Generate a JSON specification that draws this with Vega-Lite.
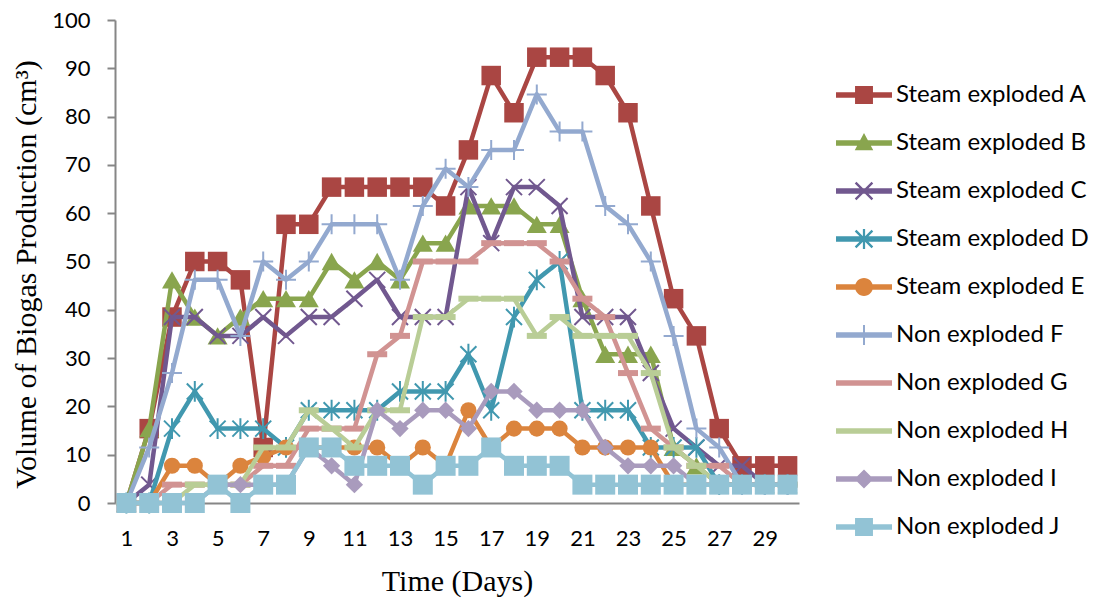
{
  "$schema": "https://vega.github.io/schema/vega-lite/v6.json",
  "width": 684,
  "height": 483,
  "autosize": {"type": "none"},
  "padding": {"left": 115, "top": 20, "right": 299, "bottom": 96},
  "background": "white",
  "config": {"view": {"stroke": null}, "point": {"opacity": 1}},
  "data": {"values": [
{"day":1,"series":"Steam exploded A","value":0},{"day":2,"series":"Steam exploded A","value":15.4},{"day":3,"series":"Steam exploded A","value":38.5},{"day":4,"series":"Steam exploded A","value":50},{"day":5,"series":"Steam exploded A","value":50},{"day":6,"series":"Steam exploded A","value":46.2},{"day":7,"series":"Steam exploded A","value":11.5},{"day":8,"series":"Steam exploded A","value":57.7},{"day":9,"series":"Steam exploded A","value":57.7},{"day":10,"series":"Steam exploded A","value":65.4},{"day":11,"series":"Steam exploded A","value":65.4},{"day":12,"series":"Steam exploded A","value":65.4},{"day":13,"series":"Steam exploded A","value":65.4},{"day":14,"series":"Steam exploded A","value":65.4},{"day":15,"series":"Steam exploded A","value":61.5},{"day":16,"series":"Steam exploded A","value":73.1},{"day":17,"series":"Steam exploded A","value":88.5},{"day":18,"series":"Steam exploded A","value":80.8},{"day":19,"series":"Steam exploded A","value":92.3},{"day":20,"series":"Steam exploded A","value":92.3},{"day":21,"series":"Steam exploded A","value":92.3},{"day":22,"series":"Steam exploded A","value":88.5},{"day":23,"series":"Steam exploded A","value":80.8},{"day":24,"series":"Steam exploded A","value":61.5},{"day":25,"series":"Steam exploded A","value":42.3},{"day":26,"series":"Steam exploded A","value":34.6},{"day":27,"series":"Steam exploded A","value":15.4},{"day":28,"series":"Steam exploded A","value":7.7},{"day":29,"series":"Steam exploded A","value":7.7},{"day":30,"series":"Steam exploded A","value":7.7},
{"day":1,"series":"Steam exploded B","value":0},{"day":2,"series":"Steam exploded B","value":15.4},{"day":3,"series":"Steam exploded B","value":46.2},{"day":4,"series":"Steam exploded B","value":38.5},{"day":5,"series":"Steam exploded B","value":34.6},{"day":6,"series":"Steam exploded B","value":38.5},{"day":7,"series":"Steam exploded B","value":42.3},{"day":8,"series":"Steam exploded B","value":42.3},{"day":9,"series":"Steam exploded B","value":42.3},{"day":10,"series":"Steam exploded B","value":50},{"day":11,"series":"Steam exploded B","value":46.2},{"day":12,"series":"Steam exploded B","value":50},{"day":13,"series":"Steam exploded B","value":46.2},{"day":14,"series":"Steam exploded B","value":53.8},{"day":15,"series":"Steam exploded B","value":53.8},{"day":16,"series":"Steam exploded B","value":61.5},{"day":17,"series":"Steam exploded B","value":61.5},{"day":18,"series":"Steam exploded B","value":61.5},{"day":19,"series":"Steam exploded B","value":57.7},{"day":20,"series":"Steam exploded B","value":57.7},{"day":21,"series":"Steam exploded B","value":42.3},{"day":22,"series":"Steam exploded B","value":30.8},{"day":23,"series":"Steam exploded B","value":30.8},{"day":24,"series":"Steam exploded B","value":30.8},{"day":25,"series":"Steam exploded B","value":11.5},{"day":26,"series":"Steam exploded B","value":7.7},{"day":27,"series":"Steam exploded B","value":3.8},{"day":28,"series":"Steam exploded B","value":3.8},{"day":29,"series":"Steam exploded B","value":3.8},{"day":30,"series":"Steam exploded B","value":3.8},
{"day":1,"series":"Steam exploded C","value":0},{"day":2,"series":"Steam exploded C","value":3.8},{"day":3,"series":"Steam exploded C","value":38.5},{"day":4,"series":"Steam exploded C","value":38.5},{"day":5,"series":"Steam exploded C","value":34.6},{"day":6,"series":"Steam exploded C","value":34.6},{"day":7,"series":"Steam exploded C","value":38.5},{"day":8,"series":"Steam exploded C","value":34.6},{"day":9,"series":"Steam exploded C","value":38.5},{"day":10,"series":"Steam exploded C","value":38.5},{"day":11,"series":"Steam exploded C","value":42.3},{"day":12,"series":"Steam exploded C","value":46.2},{"day":13,"series":"Steam exploded C","value":38.5},{"day":14,"series":"Steam exploded C","value":38.5},{"day":15,"series":"Steam exploded C","value":38.5},{"day":16,"series":"Steam exploded C","value":65.4},{"day":17,"series":"Steam exploded C","value":53.8},{"day":18,"series":"Steam exploded C","value":65.4},{"day":19,"series":"Steam exploded C","value":65.4},{"day":20,"series":"Steam exploded C","value":61.5},{"day":21,"series":"Steam exploded C","value":38.5},{"day":22,"series":"Steam exploded C","value":38.5},{"day":23,"series":"Steam exploded C","value":38.5},{"day":24,"series":"Steam exploded C","value":26.9},{"day":25,"series":"Steam exploded C","value":15.4},{"day":26,"series":"Steam exploded C","value":11.5},{"day":27,"series":"Steam exploded C","value":7.7},{"day":28,"series":"Steam exploded C","value":7.7},{"day":29,"series":"Steam exploded C","value":3.8},{"day":30,"series":"Steam exploded C","value":3.8},
{"day":1,"series":"Steam exploded D","value":0},{"day":2,"series":"Steam exploded D","value":0},{"day":3,"series":"Steam exploded D","value":15.4},{"day":4,"series":"Steam exploded D","value":23.1},{"day":5,"series":"Steam exploded D","value":15.4},{"day":6,"series":"Steam exploded D","value":15.4},{"day":7,"series":"Steam exploded D","value":15.4},{"day":8,"series":"Steam exploded D","value":11.5},{"day":9,"series":"Steam exploded D","value":19.2},{"day":10,"series":"Steam exploded D","value":19.2},{"day":11,"series":"Steam exploded D","value":19.2},{"day":12,"series":"Steam exploded D","value":19.2},{"day":13,"series":"Steam exploded D","value":23.1},{"day":14,"series":"Steam exploded D","value":23.1},{"day":15,"series":"Steam exploded D","value":23.1},{"day":16,"series":"Steam exploded D","value":30.8},{"day":17,"series":"Steam exploded D","value":19.2},{"day":18,"series":"Steam exploded D","value":38.5},{"day":19,"series":"Steam exploded D","value":46.2},{"day":20,"series":"Steam exploded D","value":50},{"day":21,"series":"Steam exploded D","value":19.2},{"day":22,"series":"Steam exploded D","value":19.2},{"day":23,"series":"Steam exploded D","value":19.2},{"day":24,"series":"Steam exploded D","value":11.5},{"day":25,"series":"Steam exploded D","value":11.5},{"day":26,"series":"Steam exploded D","value":11.5},{"day":27,"series":"Steam exploded D","value":3.8},{"day":28,"series":"Steam exploded D","value":3.8},{"day":29,"series":"Steam exploded D","value":3.8},{"day":30,"series":"Steam exploded D","value":3.8},
{"day":1,"series":"Steam exploded E","value":0},{"day":2,"series":"Steam exploded E","value":0},{"day":3,"series":"Steam exploded E","value":7.7},{"day":4,"series":"Steam exploded E","value":7.7},{"day":5,"series":"Steam exploded E","value":3.8},{"day":6,"series":"Steam exploded E","value":7.7},{"day":7,"series":"Steam exploded E","value":9.6},{"day":8,"series":"Steam exploded E","value":11.5},{"day":9,"series":"Steam exploded E","value":11.5},{"day":10,"series":"Steam exploded E","value":11.5},{"day":11,"series":"Steam exploded E","value":11.5},{"day":12,"series":"Steam exploded E","value":11.5},{"day":13,"series":"Steam exploded E","value":7.7},{"day":14,"series":"Steam exploded E","value":11.5},{"day":15,"series":"Steam exploded E","value":7.7},{"day":16,"series":"Steam exploded E","value":19.2},{"day":17,"series":"Steam exploded E","value":11.5},{"day":18,"series":"Steam exploded E","value":15.4},{"day":19,"series":"Steam exploded E","value":15.4},{"day":20,"series":"Steam exploded E","value":15.4},{"day":21,"series":"Steam exploded E","value":11.5},{"day":22,"series":"Steam exploded E","value":11.5},{"day":23,"series":"Steam exploded E","value":11.5},{"day":24,"series":"Steam exploded E","value":11.5},{"day":25,"series":"Steam exploded E","value":3.8},{"day":26,"series":"Steam exploded E","value":3.8},{"day":27,"series":"Steam exploded E","value":3.8},{"day":28,"series":"Steam exploded E","value":3.8},{"day":29,"series":"Steam exploded E","value":3.8},{"day":30,"series":"Steam exploded E","value":3.8},
{"day":1,"series":"Non exploded F","value":0},{"day":2,"series":"Non exploded F","value":11.5},{"day":3,"series":"Non exploded F","value":26.9},{"day":4,"series":"Non exploded F","value":46.2},{"day":5,"series":"Non exploded F","value":46.2},{"day":6,"series":"Non exploded F","value":34.6},{"day":7,"series":"Non exploded F","value":50},{"day":8,"series":"Non exploded F","value":46.2},{"day":9,"series":"Non exploded F","value":50},{"day":10,"series":"Non exploded F","value":57.7},{"day":11,"series":"Non exploded F","value":57.7},{"day":12,"series":"Non exploded F","value":57.7},{"day":13,"series":"Non exploded F","value":46.2},{"day":14,"series":"Non exploded F","value":61.5},{"day":15,"series":"Non exploded F","value":69.2},{"day":16,"series":"Non exploded F","value":65.4},{"day":17,"series":"Non exploded F","value":73.1},{"day":18,"series":"Non exploded F","value":73.1},{"day":19,"series":"Non exploded F","value":84.6},{"day":20,"series":"Non exploded F","value":76.9},{"day":21,"series":"Non exploded F","value":76.9},{"day":22,"series":"Non exploded F","value":61.5},{"day":23,"series":"Non exploded F","value":57.7},{"day":24,"series":"Non exploded F","value":50},{"day":25,"series":"Non exploded F","value":34.6},{"day":26,"series":"Non exploded F","value":15.4},{"day":27,"series":"Non exploded F","value":11.5},{"day":28,"series":"Non exploded F","value":3.8},{"day":29,"series":"Non exploded F","value":3.8},{"day":30,"series":"Non exploded F","value":3.8},
{"day":1,"series":"Non exploded G","value":0},{"day":2,"series":"Non exploded G","value":0},{"day":3,"series":"Non exploded G","value":3.8},{"day":4,"series":"Non exploded G","value":3.8},{"day":5,"series":"Non exploded G","value":3.8},{"day":6,"series":"Non exploded G","value":3.8},{"day":7,"series":"Non exploded G","value":7.7},{"day":8,"series":"Non exploded G","value":7.7},{"day":9,"series":"Non exploded G","value":15.4},{"day":10,"series":"Non exploded G","value":15.4},{"day":11,"series":"Non exploded G","value":15.4},{"day":12,"series":"Non exploded G","value":30.8},{"day":13,"series":"Non exploded G","value":34.6},{"day":14,"series":"Non exploded G","value":50},{"day":15,"series":"Non exploded G","value":50},{"day":16,"series":"Non exploded G","value":50},{"day":17,"series":"Non exploded G","value":53.8},{"day":18,"series":"Non exploded G","value":53.8},{"day":19,"series":"Non exploded G","value":53.8},{"day":20,"series":"Non exploded G","value":50},{"day":21,"series":"Non exploded G","value":42.3},{"day":22,"series":"Non exploded G","value":38.5},{"day":23,"series":"Non exploded G","value":26.9},{"day":24,"series":"Non exploded G","value":15.4},{"day":25,"series":"Non exploded G","value":11.5},{"day":26,"series":"Non exploded G","value":7.7},{"day":27,"series":"Non exploded G","value":7.7},{"day":28,"series":"Non exploded G","value":3.8},{"day":29,"series":"Non exploded G","value":3.8},{"day":30,"series":"Non exploded G","value":3.8},
{"day":1,"series":"Non exploded H","value":0},{"day":2,"series":"Non exploded H","value":0},{"day":3,"series":"Non exploded H","value":0},{"day":4,"series":"Non exploded H","value":3.8},{"day":5,"series":"Non exploded H","value":3.8},{"day":6,"series":"Non exploded H","value":3.8},{"day":7,"series":"Non exploded H","value":11.5},{"day":8,"series":"Non exploded H","value":11.5},{"day":9,"series":"Non exploded H","value":19.2},{"day":10,"series":"Non exploded H","value":15.4},{"day":11,"series":"Non exploded H","value":11.5},{"day":12,"series":"Non exploded H","value":19.2},{"day":13,"series":"Non exploded H","value":19.2},{"day":14,"series":"Non exploded H","value":38.5},{"day":15,"series":"Non exploded H","value":38.5},{"day":16,"series":"Non exploded H","value":42.3},{"day":17,"series":"Non exploded H","value":42.3},{"day":18,"series":"Non exploded H","value":42.3},{"day":19,"series":"Non exploded H","value":34.6},{"day":20,"series":"Non exploded H","value":38.5},{"day":21,"series":"Non exploded H","value":34.6},{"day":22,"series":"Non exploded H","value":34.6},{"day":23,"series":"Non exploded H","value":34.6},{"day":24,"series":"Non exploded H","value":26.9},{"day":25,"series":"Non exploded H","value":11.5},{"day":26,"series":"Non exploded H","value":7.7},{"day":27,"series":"Non exploded H","value":3.8},{"day":28,"series":"Non exploded H","value":3.8},{"day":29,"series":"Non exploded H","value":3.8},{"day":30,"series":"Non exploded H","value":3.8},
{"day":1,"series":"Non exploded I","value":0},{"day":2,"series":"Non exploded I","value":0},{"day":3,"series":"Non exploded I","value":0},{"day":4,"series":"Non exploded I","value":0},{"day":5,"series":"Non exploded I","value":3.8},{"day":6,"series":"Non exploded I","value":3.8},{"day":7,"series":"Non exploded I","value":3.8},{"day":8,"series":"Non exploded I","value":3.8},{"day":9,"series":"Non exploded I","value":11.5},{"day":10,"series":"Non exploded I","value":7.7},{"day":11,"series":"Non exploded I","value":3.8},{"day":12,"series":"Non exploded I","value":19.2},{"day":13,"series":"Non exploded I","value":15.4},{"day":14,"series":"Non exploded I","value":19.2},{"day":15,"series":"Non exploded I","value":19.2},{"day":16,"series":"Non exploded I","value":15.4},{"day":17,"series":"Non exploded I","value":23.1},{"day":18,"series":"Non exploded I","value":23.1},{"day":19,"series":"Non exploded I","value":19.2},{"day":20,"series":"Non exploded I","value":19.2},{"day":21,"series":"Non exploded I","value":19.2},{"day":22,"series":"Non exploded I","value":11.5},{"day":23,"series":"Non exploded I","value":7.7},{"day":24,"series":"Non exploded I","value":7.7},{"day":25,"series":"Non exploded I","value":7.7},{"day":26,"series":"Non exploded I","value":3.8},{"day":27,"series":"Non exploded I","value":3.8},{"day":28,"series":"Non exploded I","value":3.8},{"day":29,"series":"Non exploded I","value":3.8},{"day":30,"series":"Non exploded I","value":3.8},
{"day":1,"series":"Non exploded J","value":0},{"day":2,"series":"Non exploded J","value":0},{"day":3,"series":"Non exploded J","value":0},{"day":4,"series":"Non exploded J","value":0},{"day":5,"series":"Non exploded J","value":3.8},{"day":6,"series":"Non exploded J","value":0},{"day":7,"series":"Non exploded J","value":3.8},{"day":8,"series":"Non exploded J","value":3.8},{"day":9,"series":"Non exploded J","value":11.5},{"day":10,"series":"Non exploded J","value":11.5},{"day":11,"series":"Non exploded J","value":7.7},{"day":12,"series":"Non exploded J","value":7.7},{"day":13,"series":"Non exploded J","value":7.7},{"day":14,"series":"Non exploded J","value":3.8},{"day":15,"series":"Non exploded J","value":7.7},{"day":16,"series":"Non exploded J","value":7.7},{"day":17,"series":"Non exploded J","value":11.5},{"day":18,"series":"Non exploded J","value":7.7},{"day":19,"series":"Non exploded J","value":7.7},{"day":20,"series":"Non exploded J","value":7.7},{"day":21,"series":"Non exploded J","value":3.8},{"day":22,"series":"Non exploded J","value":3.8},{"day":23,"series":"Non exploded J","value":3.8},{"day":24,"series":"Non exploded J","value":3.8},{"day":25,"series":"Non exploded J","value":3.8},{"day":26,"series":"Non exploded J","value":3.8},{"day":27,"series":"Non exploded J","value":3.8},{"day":28,"series":"Non exploded J","value":3.8},{"day":29,"series":"Non exploded J","value":3.8},{"day":30,"series":"Non exploded J","value":3.8}
  ]},
  "encoding": {
    "x": {"field": "day", "type": "ordinal", "sort": "ascending",
      "scale": {"type": "point", "padding": 0.5},
      "axis": {"title": "Time (Days)", "values": [1,3,5,7,9,11,13,15,17,19,21,23,25,27,29], "labelAngle": 0, "ticks": false, "grid": false,
        "domainColor": "#868686", "domainWidth": 2, "labelFont": "Lato", "labelFontSize": 22, "labelColor": "#000000", "labelPadding": 25,
        "titleFont": "Liberation Serif", "titleFontSize": 30, "titleFontWeight": "normal", "titleColor": "#000000", "titleBaseline": "alphabetic", "titleY": 87}},
    "y": {"field": "value", "type": "quantitative",
      "scale": {"domain": [0, 100]},
      "axis": {"title": "Volume of Biogas Production (cm³)", "values": [0,10,20,30,40,50,60,70,80,90,100], "grid": false,
        "tickSize": 8, "tickColor": "#868686", "tickWidth": 2, "domainColor": "#868686", "domainWidth": 2,
        "labelFont": "Lato", "labelFontSize": 22, "labelColor": "#000000", "labelPadding": 17,
        "titleFont": "Liberation Serif", "titleFontSize": 30, "titleFontWeight": "normal", "titleColor": "#000000",
        "titleBaseline": "alphabetic", "titleX": -80, "titleY": 254, "titleAngle": 270}},
    "color": {"field": "series", "type": "nominal",
      "scale": {"domain": ["Steam exploded A","Steam exploded B","Steam exploded C","Steam exploded D","Steam exploded E","Non exploded F","Non exploded G","Non exploded H","Non exploded I","Non exploded J"],
        "range": ["#AA4643","#89A54E","#71588F","#4198AF","#DB843D","#93A9CF","#D19392","#B9CD96","#A99BBD","#92C3D5"]},
      "legend": {"title": null, "orient": "none", "legendX": 721, "legendY": 51, "symbolSize": 3136, "symbolStrokeWidth": 0, "symbolOpacity": 1, "clipHeight": 48,
        "labelFont": "Lato", "labelFontSize": 24, "labelColor": "#000000", "labelOffset": 4, "rowPadding": 0, "padding": 0, "labelLimit": 400}}
  },
  "layer": [
    {"transform": [{"filter": "datum.series === 'Steam exploded A'"}], "mark": {"type": "line", "strokeWidth": 4.5, "strokeJoin": "round"}},
    {"transform": [{"filter": "datum.series === 'Steam exploded A'"}], "mark": {"type": "point", "shape": "square", "filled": true, "size": 380, "opacity": 1}},
    {"transform": [{"filter": "datum.series === 'Steam exploded B'"}], "mark": {"type": "line", "strokeWidth": 4.5, "strokeJoin": "round"}},
    {"transform": [{"filter": "datum.series === 'Steam exploded B'"}], "mark": {"type": "point", "shape": "triangle-up", "filled": true, "size": 400, "opacity": 1}},
    {"transform": [{"filter": "datum.series === 'Steam exploded C'"}], "mark": {"type": "line", "strokeWidth": 4.5, "strokeJoin": "round"}},
    {"transform": [{"filter": "datum.series === 'Steam exploded C'"}], "mark": {"type": "point", "shape": "M-1,-1L1,1M-1,1L1,-1", "filled": false, "strokeWidth": 2, "size": 256, "opacity": 1}},
    {"transform": [{"filter": "datum.series === 'Steam exploded D'"}], "mark": {"type": "line", "strokeWidth": 4.5, "strokeJoin": "round"}},
    {"transform": [{"filter": "datum.series === 'Steam exploded D'"}], "mark": {"type": "point", "shape": "M-1,-1L1,1M-1,1L1,-1M0,-1.3L0,1.3", "filled": false, "strokeWidth": 2, "size": 256, "opacity": 1}},
    {"transform": [{"filter": "datum.series === 'Steam exploded E'"}], "mark": {"type": "line", "strokeWidth": 4.5, "strokeJoin": "round"}},
    {"transform": [{"filter": "datum.series === 'Steam exploded E'"}], "mark": {"type": "point", "shape": "circle", "filled": true, "size": 260, "opacity": 1}},
    {"transform": [{"filter": "datum.series === 'Non exploded F'"}], "mark": {"type": "line", "strokeWidth": 4.5, "strokeJoin": "round"}},
    {"transform": [{"filter": "datum.series === 'Non exploded F'"}], "mark": {"type": "point", "shape": "M-1,0L1,0M0,-1L0,1", "filled": false, "strokeWidth": 2, "size": 400, "opacity": 1}},
    {"transform": [{"filter": "datum.series === 'Non exploded G'"}], "mark": {"type": "line", "strokeWidth": 4.5, "strokeJoin": "round"}},
    {"transform": [{"filter": "datum.series === 'Non exploded G'"}], "mark": {"type": "point", "shape": "M-1,-0.3L1,-0.3L1,0.3L-1,0.3Z", "filled": true, "size": 400, "opacity": 1}},
    {"transform": [{"filter": "datum.series === 'Non exploded H'"}], "mark": {"type": "line", "strokeWidth": 4.5, "strokeJoin": "round"}},
    {"transform": [{"filter": "datum.series === 'Non exploded H'"}], "mark": {"type": "point", "shape": "M-1,-0.3L1,-0.3L1,0.3L-1,0.3Z", "filled": true, "size": 400, "opacity": 1}},
    {"transform": [{"filter": "datum.series === 'Non exploded I'"}], "mark": {"type": "line", "strokeWidth": 4.5, "strokeJoin": "round"}},
    {"transform": [{"filter": "datum.series === 'Non exploded I'"}], "mark": {"type": "point", "shape": "diamond", "filled": true, "size": 300, "opacity": 1}},
    {"transform": [{"filter": "datum.series === 'Non exploded J'"}], "mark": {"type": "line", "strokeWidth": 4.5, "strokeJoin": "round"}},
    {"transform": [{"filter": "datum.series === 'Non exploded J'"}], "mark": {"type": "point", "shape": "square", "filled": true, "size": 400, "opacity": 1}},
    {"transform": [{"filter": "false"}], "mark": {"type": "point", "filled": true, "opacity": 1},
      "encoding": {"shape": {"field": "series", "type": "nominal",
        "scale": {"domain": ["Steam exploded A","Steam exploded B","Steam exploded C","Steam exploded D","Steam exploded E","Non exploded F","Non exploded G","Non exploded H","Non exploded I","Non exploded J"],
          "range": [
            "M-1,-0.1L1,-0.1L1,0.1L-1,0.1ZM-0.32,-0.32L0.32,-0.32L0.32,0.32L-0.32,0.32Z",
            "M-1,-0.1L1,-0.1L1,0.1L-1,0.1ZM0,-0.36L0.33,0.26L-0.33,0.26Z",
            "M-1,-0.1L1,-0.1L1,0.1L-1,0.1ZM-0.33,-0.27L-0.27,-0.33L0.33,0.27L0.27,0.33ZM0.27,-0.33L0.33,-0.27L-0.27,0.33L-0.33,0.27Z",
            "M-1,-0.1L1,-0.1L1,0.1L-1,0.1ZM-0.33,-0.27L-0.27,-0.33L0.33,0.27L0.27,0.33ZM0.27,-0.33L0.33,-0.27L-0.27,0.33L-0.33,0.27ZM-0.04,-0.36L0.04,-0.36L0.04,0.36L-0.04,0.36Z",
            "M-1,-0.1L1,-0.1L1,0.1L-1,0.1ZM-0.32,0A0.32,0.32 0 1,1 0.32,0A0.32,0.32 0 1,1 -0.32,0Z",
            "M-1,-0.1L1,-0.1L1,0.1L-1,0.1ZM-0.035,-0.36L0.035,-0.36L0.035,0.36L-0.035,0.36Z",
            "M-1,-0.1L1,-0.1L1,0.1L-1,0.1Z",
            "M-1,-0.1L1,-0.1L1,0.1L-1,0.1Z",
            "M-1,-0.1L1,-0.1L1,0.1L-1,0.1ZM0,-0.34L0.34,0L0,0.34L-0.34,0Z",
            "M-1,-0.1L1,-0.1L1,0.1L-1,0.1ZM-0.32,-0.32L0.32,-0.32L0.32,0.32L-0.32,0.32Z"
          ]},
        "legend": {"title": null, "orient": "none", "legendX": 721, "legendY": 51, "symbolSize": 3136, "symbolStrokeWidth": 0, "symbolOpacity": 1, "clipHeight": 48,
          "labelFont": "Lato", "labelFontSize": 24, "labelColor": "#000000", "labelOffset": 4, "rowPadding": 0, "padding": 0, "labelLimit": 400}}}}
  ]
}
